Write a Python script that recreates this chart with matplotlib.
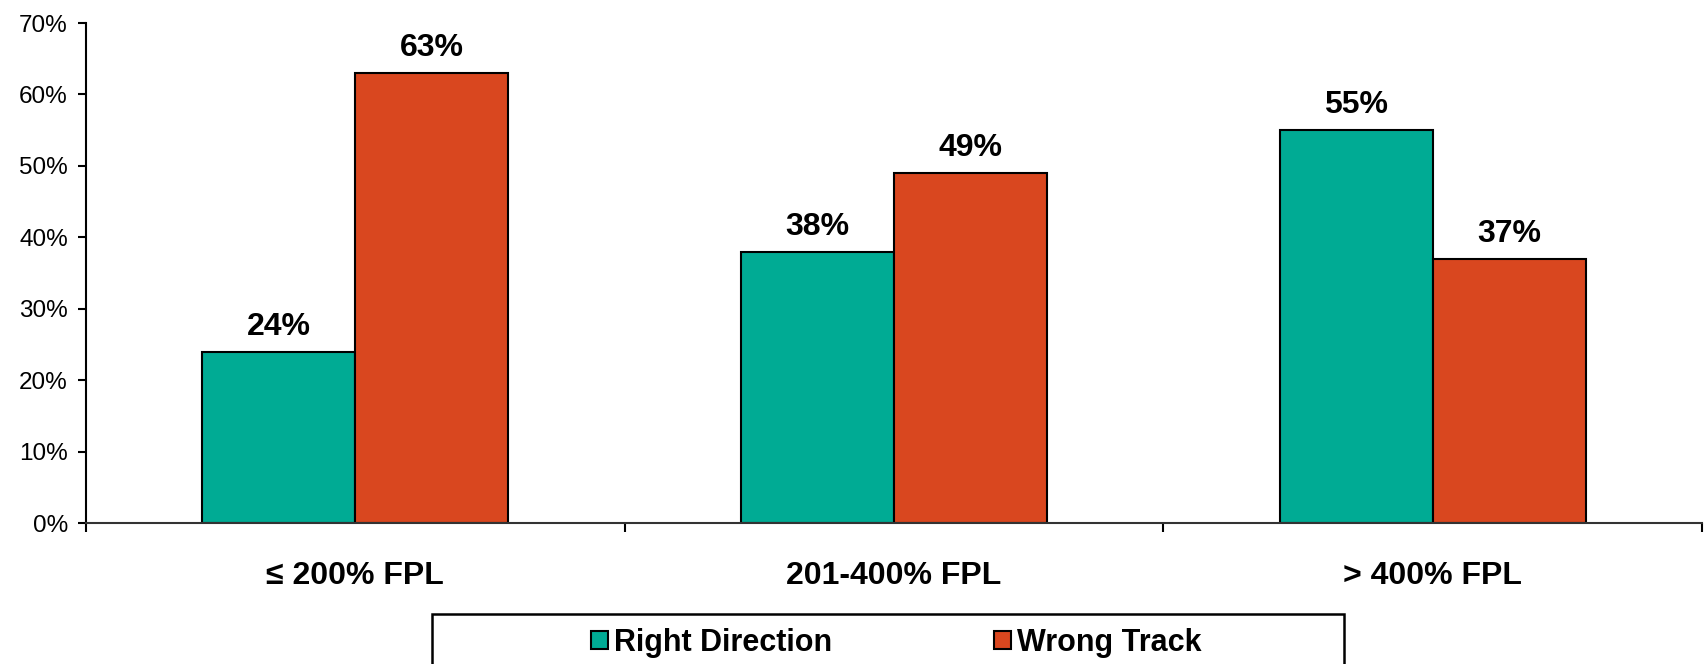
import matplotlib
matplotlib.use('Agg')
import matplotlib.pyplot as plt
from matplotlib.patches import Rectangle
from matplotlib.ticker import FixedLocator, PercentFormatter
import numpy as np

groups = ['\u2264 200% FPL', '201-400% FPL', '> 400% FPL']
right_direction = [24, 38, 55]
wrong_track = [63, 49, 37]
series_names = ['Right Direction', 'Wrong Track']
colors = ['#00AB94', '#D9471F']

plt.rcParams['font.family'] = ['Liberation Sans', 'DejaVu Sans']

fig = plt.figure(figsize=(17.08, 6.64), dpi=100)
ax = fig.add_axes([86 / 1708, 1 - 523 / 664, (1702 - 86) / 1708, (523 - 23) / 664])

x = np.arange(len(groups))
w = 0.284
bars1 = ax.bar(x - w / 2, right_direction, w, color=colors[0], edgecolor='black',
               linewidth=1.5, label=series_names[0])
bars2 = ax.bar(x + w / 2, wrong_track, w, color=colors[1], edgecolor='black',
               linewidth=1.5, label=series_names[1])

for bars, vals in [(bars1, right_direction), (bars2, wrong_track)]:
    for b, v in zip(bars, vals):
        ax.annotate(f'{v}%', (b.get_x() + b.get_width() / 2, v),
                    xytext=(0, 7), textcoords='offset points',
                    ha='center', va='bottom', fontsize=23, fontweight='bold')

ax.set_xlim(-0.5, 2.5)
ax.set_ylim(0, 70)
ax.set_yticks(range(0, 71, 10))
ax.yaxis.set_major_formatter(PercentFormatter(decimals=0))
ax.tick_params(axis='y', labelsize=17.5, length=6, width=1.5, pad=7)

ax.set_xticks(x)
ax.set_xticklabels(groups, fontsize=23, fontweight='bold')
ax.tick_params(axis='x', which='major', length=0, pad=27)
ax.xaxis.set_minor_locator(FixedLocator([-0.5, 0.5, 1.5, 2.5]))
ax.tick_params(axis='x', which='minor', length=6.5, width=1.5)

for s in ['top', 'right']:
    ax.spines[s].set_visible(False)
ax.spines['left'].set_linewidth(1.5)
ax.spines['bottom'].set_linewidth(1.5)
ax.spines['bottom'].set_color('#333333')

# legend frame runs past the bottom edge of the figure
fig.patches.append(Rectangle((432 / 1708, -0.05), (1344 - 432) / 1708, 0.05 + (664 - 614) / 664,
                             transform=fig.transFigure, fill=False,
                             edgecolor='black', linewidth=1.8))
leg = fig.legend(loc='center', bbox_to_anchor=(896 / 1708, 1 - 643 / 664), ncol=2,
                 frameon=False, handlelength=0.55, handleheight=0.55, handletextpad=0.2,
                 columnspacing=5.3, prop={'weight': 'bold', 'size': 22})

fig.savefig('out.png', dpi=100)
